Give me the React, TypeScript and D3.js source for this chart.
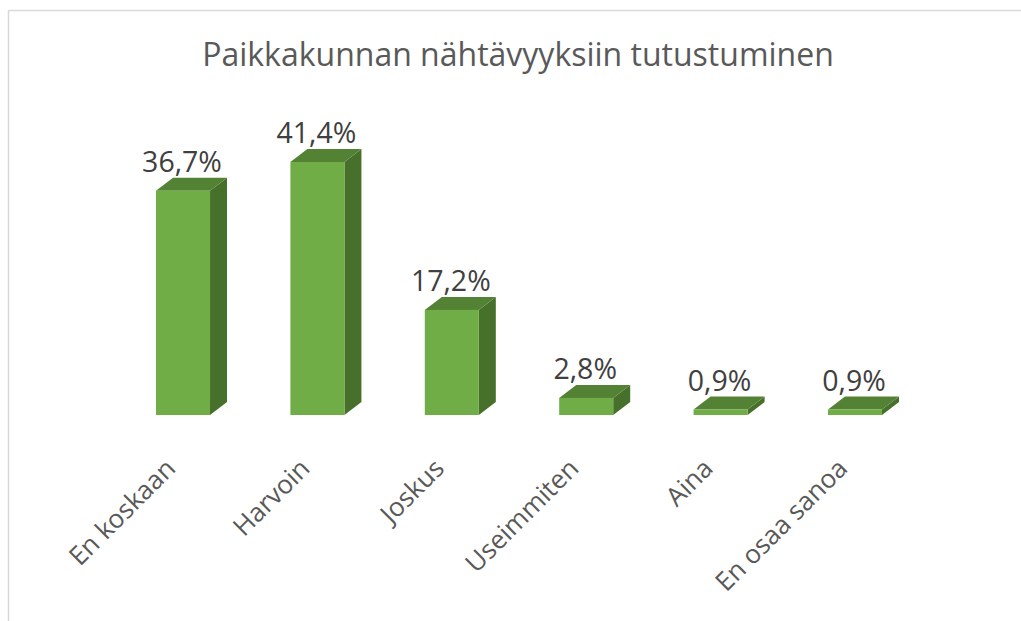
import React from "react";
import * as d3 from "d3";

const categories = ["En koskaan", "Harvoin", "Joskus", "Useimmiten", "Aina", "En osaa sanoa"];
const values = [36.7, 41.4, 17.2, 2.8, 0.9, 0.9];
const valueLabels = ["36,7%", "41,4%", "17,2%", "2,8%", "0,9%", "0,9%"];
const title = "Paikkakunnan nähtävyyksiin tutustuminen";

const W = 1021;
const H = 621;
const FONT = "'Open Sans', 'Noto Sans', sans-serif";

export default function App() {
  const x = d3.scaleBand<string>().domain(categories).range([88.8, 949.2]).paddingInner(0.598).paddingOuter(0.5);
  const y = d3.scaleLinear().domain([0, 41.4]).range([415, 162]);
  const dx = 17;
  const dy = -13;
  const front = "#70ad47";
  const top = "#548235";
  const side = "#47702b";

  return (
    <svg width={W} height={H} style={{ position: "absolute", left: 0, top: 0 }}>
      <rect x={0} y={0} width={W} height={H} fill="#fff" />
      <path d={`M8.5,${H} L8.5,10.5 L${W},10.5`} fill="none" stroke="#d9d9d9" strokeWidth={1.5} />
      <text x={518} y={66} textAnchor="middle" fontFamily={FONT} fontSize={32} fill="#595959">
        {title}
      </text>
      {categories.map((c, i) => {
        const x0 = x(c)!;
        const bw = x.bandwidth();
        const y0 = y(values[i]);
        const yb = y(0);
        const cx = x0 + bw / 2;
        return (
          <g key={c}>
            <path
              d={`M${x0 + bw},${y0} L${x0 + bw + dx},${y0 + dy} L${x0 + bw + dx},${yb + dy} L${x0 + bw},${yb} Z`}
              fill={side}
            />
            <path
              d={`M${x0},${y0} L${x0 + dx},${y0 + dy} L${x0 + bw + dx},${y0 + dy} L${x0 + bw},${y0} Z`}
              fill={top}
            />
            <rect x={x0} y={y0} width={bw} height={yb - y0} fill={front} />
            <text x={cx - 1} y={y0 - 19} textAnchor="middle" fontFamily={FONT} fontSize={28.5} fill="#404040">
              {valueLabels[i]}
            </text>
            <text
              transform={`translate(${cx - 6},${470}) rotate(-45)`}
              textAnchor="end"
              fontFamily={FONT}
              fontSize={26}
              fill="#595959"
            >
              {c}
            </text>
          </g>
        );
      })}
    </svg>
  );
}
